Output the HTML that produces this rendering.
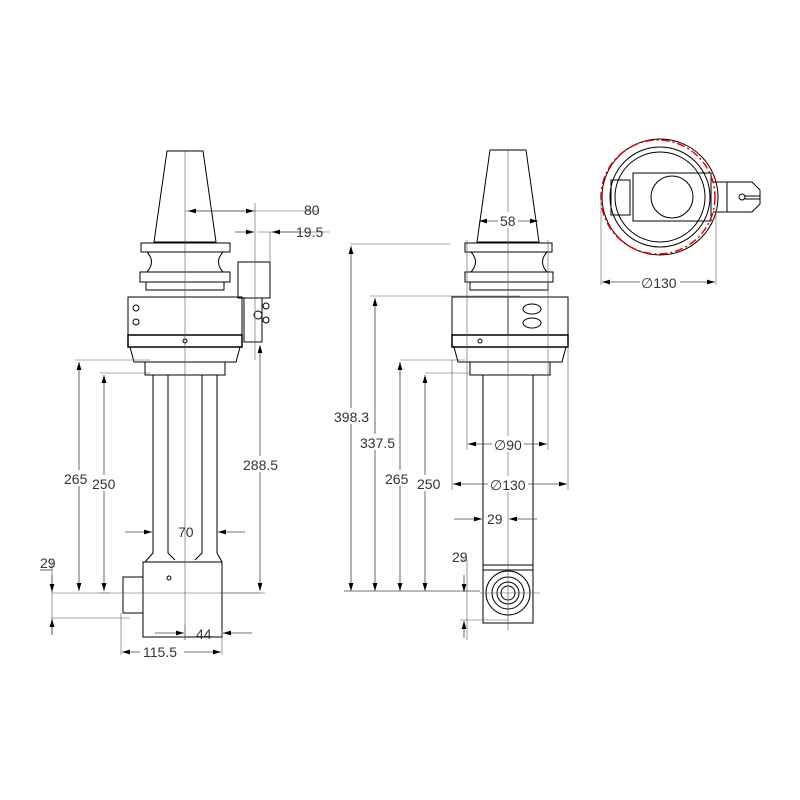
<!DOCTYPE html>
<html><head><style>body{margin:0;background:#fff}svg{display:block}text{font-family:"Liberation Sans",sans-serif;font-size:14px;fill:#333}</style></head><body>
<svg width="800" height="800" viewBox="0 0 800 800" xmlns="http://www.w3.org/2000/svg">
<defs><marker id="a" viewBox="0 0 10 6" refX="10" refY="3" markerWidth="10" markerHeight="6" orient="auto-start-reverse"><path d="M0,0L10,3L0,6z" fill="#000"/></marker></defs>
<g fill="none" stroke="#000" stroke-width="1">
<path d="M167,151H203L216,242H154Z"/>
<path d="M141,243H230V252H141Z M147,252Q156,262 147,272H223Q214,262 223,252 M140,272H230V282H140Z M146,282H224V290H146Z"/>
<path d="M128,297H242V335H128Z"/>
<path d="M128,335H242V347H128Z" stroke-width="1.5"/>
<path d="M130,347H240L236,362H134Z M145,362H225V375H145Z"/>
<path d="M153,375V553L145,562 M168,375V553L175,560 M202,375V553L195,560 M217,375V553L222,562"/>
<path d="M143,562H222V637H143Z"/>
<path d="M123,577H143V613H123Z"/>
<path d="M238,262H270V298H238Z M244,298H262V342H244Z"/>
<circle cx="136" cy="308" r="3"/><circle cx="136" cy="322" r="3"/><circle cx="266" cy="306" r="3"/><circle cx="266" cy="320" r="3"/><circle cx="258" cy="315" r="4"/><circle cx="185" cy="341" r="2"/><circle cx="169" cy="578" r="2"/>
</g>
<g stroke="#555" stroke-width="0.6" fill="none">
<path d="M185,150V640 M100,593H260 M52,618H130"/>
<path d="M185,211H318 M255,203V360 M270,232V262 M257,232H330"/>
<path d="M75,360H150 M100,373H150 M220,593H265"/>
<path d="M121,613V655 M222,630V655 M185,625V640"/>
<path d="M52,560V635 M52,593H110"/>
<path d="M450,244H350 M520,296H370 M465,360H400 M470,373H425"/>
</g>
<g stroke="#444" stroke-width="0.8">
<line x1="188" y1="211" x2="254" y2="211" marker-start="url(#a)" marker-end="url(#a)"/>
<line x1="235" y1="232" x2="254" y2="232" marker-end="url(#a)"/>
<line x1="300" y1="232" x2="272" y2="232" marker-end="url(#a)"/>
<line x1="79" y1="362" x2="79" y2="591" marker-start="url(#a)" marker-end="url(#a)"/>
<line x1="104" y1="375" x2="104" y2="591" marker-start="url(#a)" marker-end="url(#a)"/>
<line x1="260" y1="345" x2="260" y2="591" marker-start="url(#a)" marker-end="url(#a)"/>
<line x1="125" y1="532" x2="152" y2="532" marker-end="url(#a)"/>
<line x1="245" y1="532" x2="218" y2="532" marker-end="url(#a)"/>
<line x1="155" y1="633" x2="184" y2="633" marker-end="url(#a)"/>
<line x1="252" y1="633" x2="223" y2="633" marker-end="url(#a)"/>
<line x1="122" y1="652" x2="221" y2="652" marker-start="url(#a)" marker-end="url(#a)"/>
<line x1="52" y1="575" x2="52" y2="592" marker-end="url(#a)"/>
<line x1="52" y1="635" x2="52" y2="619" marker-end="url(#a)"/>
<path d="M40,570H52" fill="none"/>
</g>
<text x="304" y="215">80</text><text x="296" y="237">19.5</text>
<rect x="63" y="470" width="26" height="16" fill="#fff"/><text x="64" y="484">265</text>
<rect x="91" y="475" width="26" height="16" fill="#fff"/><text x="92" y="489">250</text>
<rect x="242" y="456" width="38" height="16" fill="#fff"/><text x="243" y="470">288.5</text>
<text x="178" y="537">70</text><text x="196" y="639">44</text>
<rect x="140" y="643" width="44" height="16" fill="#fff"/><text x="143" y="657">115.5</text>
<text x="40" y="568">29</text>
<g fill="none" stroke="#000" stroke-width="1">
<path d="M490,150H526L539,242H477Z"/>
<path d="M465,243H552V252H465Z M471,252Q480,262 471,272H547Q538,262 547,252 M465,272H553V282H465Z M470,282H548V290H470Z"/>
<path d="M452,297H568V335H452Z M508,297V335"/>
<path d="M452,335H568V347H452Z" stroke-width="1.5"/>
<path d="M454,347H566L562,362H458Z M470,362H550V375H470Z"/>
<path d="M483,375V565 M533,375V565"/>
<path d="M483,565H533V623H483Z M483,570H533"/>
<circle cx="508" cy="593" r="22"/><circle cx="508" cy="593" r="16"/><circle cx="508" cy="593" r="11"/><circle cx="508" cy="593" r="7"/>
<ellipse cx="532" cy="309" rx="9" ry="5"/><ellipse cx="532" cy="323" rx="9" ry="5"/><circle cx="480" cy="341" r="2"/>
</g>
<g stroke="#555" stroke-width="0.6" fill="none">
<path d="M508,150V630 M467,240V450 M548,240V450 M452,360V490 M568,345V490 M480,593H540 M460,560H467V640 M460,620H508"/>
</g>
<g stroke="#444" stroke-width="0.8">
<line x1="351" y1="246" x2="351" y2="591" marker-start="url(#a)" marker-end="url(#a)"/>
<line x1="375" y1="298" x2="375" y2="591" marker-start="url(#a)" marker-end="url(#a)"/>
<line x1="400" y1="362" x2="400" y2="591" marker-start="url(#a)" marker-end="url(#a)"/>
<line x1="425" y1="375" x2="425" y2="591" marker-start="url(#a)" marker-end="url(#a)"/>
<line x1="479" y1="221" x2="538" y2="221" marker-start="url(#a)" marker-end="url(#a)"/>
<line x1="468" y1="444" x2="547" y2="444" marker-start="url(#a)" marker-end="url(#a)"/>
<line x1="453" y1="484" x2="567" y2="484" marker-start="url(#a)" marker-end="url(#a)"/>
<line x1="454" y1="519" x2="482" y2="519" marker-end="url(#a)"/>
<line x1="537" y1="519" x2="509" y2="519" marker-end="url(#a)"/>
<line x1="464" y1="575" x2="464" y2="592" marker-end="url(#a)"/>
<line x1="464" y1="638" x2="464" y2="621" marker-end="url(#a)"/>
<line x1="344" y1="591" x2="480" y2="591"/>
</g>
<rect x="498" y="212" width="20" height="16" fill="#fff"/><text x="500" y="226">58</text>
<rect x="333" y="408" width="38" height="16" fill="#fff"/><text x="334" y="422">398.3</text>
<rect x="359" y="434" width="38" height="16" fill="#fff"/><text x="360" y="448">337.5</text>
<rect x="384" y="470" width="26" height="16" fill="#fff"/><text x="385" y="484">265</text>
<rect x="416" y="475" width="26" height="16" fill="#fff"/><text x="417" y="489">250</text>
<rect x="492" y="436" width="32" height="16" fill="#fff"/><text x="494" y="450">∅90</text>
<rect x="488" y="476" width="40" height="16" fill="#fff"/><text x="490" y="490">∅130</text>
<text x="487" y="524">29</text><text x="452" y="562">29</text>
<g fill="none" stroke="#000" stroke-width="1">
<circle cx="660" cy="197" r="58"/><circle cx="660" cy="197" r="50"/><circle cx="660" cy="197" r="45"/>
<path d="M633,173H711V221H633Z"/><circle cx="672" cy="197" r="21"/>
<path d="M611,180H630V215H611Z"/>
<path d="M713,182H727V212H713 M727,182H752L760,190V204L752,212H727"/>
<circle cx="742" cy="197" r="3"/><path d="M745,196H760 M745,199H760"/>
</g>
<circle cx="658" cy="197" r="57" fill="none" stroke="#e00" stroke-width="1.5" stroke-dasharray="8,3,2,3"/>
<path d="M601,200V285 M716,210V285" stroke="#555" stroke-width="0.6"/>
<line x1="602" y1="282" x2="715" y2="282" stroke="#444" stroke-width="0.8" marker-start="url(#a)" marker-end="url(#a)"/>
<rect x="640" y="274" width="40" height="16" fill="#fff"/><text x="641" y="288">∅130</text>
</svg>
</body></html>
